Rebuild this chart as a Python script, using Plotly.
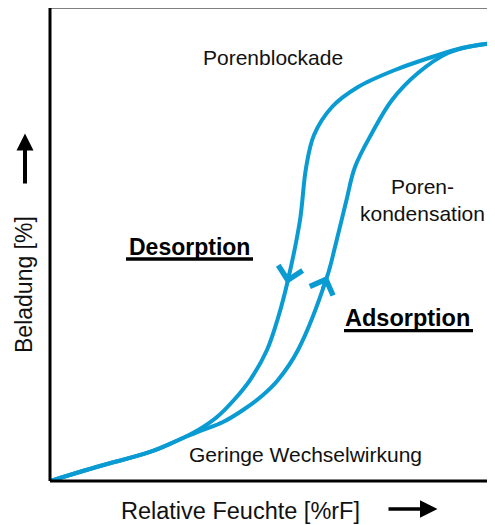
import numpy as np
import plotly.graph_objects as go

# Relative humidity [%rF] and loading [%]
desorption_x = [0.0, 11.26, 22.52, 29.95, 33.78, 37.61, 41.22, 45.05, 48.87, 51.35, 53.60,
                56.31, 57.66, 59.46, 63.51, 69.37, 77.70, 86.04, 92.79, 100.0]
desorption_y = [0.0, 3.16, 6.11, 9.05, 10.95, 13.47, 16.84, 21.26, 27.58, 34.32, 42.32,
                54.95, 65.89, 72.84, 78.74, 82.95, 86.53, 89.26, 91.16, 92.21]
adsorption_x = [0.0, 11.26, 22.52, 29.95, 34.46, 38.96, 43.47, 47.97, 51.35, 55.86, 62.39,
                64.19, 66.67, 68.69, 72.52, 77.03, 82.88, 89.64, 96.40, 100.0]
adsorption_y = [0.0, 3.16, 6.11, 9.05, 10.74, 12.42, 14.95, 18.11, 21.26, 27.58, 42.95,
                49.26, 58.74, 66.11, 73.26, 80.21, 85.89, 90.11, 91.79, 92.21]

# direction arrows on the curves: loading value at the arrow head
desorption_arrow_y = 41.5   # pointing down
adsorption_arrow_y = 43.2   # pointing up

x_title = "Relative Feuchte [%rF]"
y_title = "Beladung [%]"
labels = ["Porenblockade", "Poren-<br>kondensation", "Geringe Wechselwirkung"]
curve_labels = ["Desorption", "Adsorption"]

BLUE = "#0A9BD2"
FONT = "Liberation Sans, Arial, sans-serif"

fig = go.Figure()
for xs, ys, name in [(desorption_x, desorption_y, "Desorption"),
                     (adsorption_x, adsorption_y, "Adsorption")]:
    fig.add_trace(go.Scatter(x=xs, y=ys, mode="lines", name=name,
                             line=dict(color=BLUE, width=4, shape="spline", smoothing=1.0),
                             hoverinfo="skip", showlegend=False))

annotations = []
# curve direction chevrons
for xs, ys, yh, dy in [(desorption_x, desorption_y, desorption_arrow_y, 3.0),
                       (adsorption_x, adsorption_y, adsorption_arrow_y, -3.0)]:
    xh = float(np.interp(yh, ys, xs))
    yt = yh + dy
    xt = float(np.interp(yt, ys, xs))
    annotations.append(dict(x=xh, y=yh, xref="x", yref="y", ax=xt, ay=yt,
                            axref="x", ayref="y", text="", showarrow=True,
                            arrowhead=4, arrowsize=1.6, arrowwidth=3, arrowcolor=BLUE))

txt = dict(family=FONT, size=21, color="#111111")
annotations += [
    dict(x=0.502, y=0.8943, xref="paper", yref="paper", text=labels[0], showarrow=False,
         font=txt, xanchor="center", yanchor="middle"),
    dict(x=0.838, y=0.5941, xref="paper", yref="paper", text=labels[1], showarrow=False,
         font=txt, xanchor="center", yanchor="middle"),
    dict(x=0.5755, y=0.055, xref="paper", yref="paper", text=labels[2], showarrow=False,
         font=txt, xanchor="center", yanchor="middle"),
    dict(x=0.3153, y=0.4947, xref="paper", yref="paper", text="<b>" + curve_labels[0] + "</b>",
         showarrow=False, font=dict(family=FONT, size=23, color="#000000"),
         xanchor="center", yanchor="middle"),
    dict(x=0.806, y=0.3446, xref="paper", yref="paper", text="<b>" + curve_labels[1] + "</b>",
         showarrow=False, font=dict(family=FONT, size=23.5, color="#000000"),
         xanchor="center", yanchor="middle"),
    dict(x=0.428, y=-0.0634, xref="paper", yref="paper", text=x_title, showarrow=False,
         font=dict(family=FONT, size=23.5, color="#111111"), xanchor="center", yanchor="middle"),
    dict(x=-0.0586, y=0.4165, xref="paper", yref="paper", text=y_title, showarrow=False,
         textangle=-90, font=dict(family=FONT, size=23, color="#111111"),
         xanchor="center", yanchor="middle"),
    # axis direction arrows
    dict(x=-0.0563, y=0.7347, xref="paper", yref="paper", text="", showarrow=True,
         ax=0, ay=51.5, arrowhead=2, arrowsize=0.85, arrowwidth=4, arrowcolor="#000000"),
    dict(x=0.8727, y=-0.0592, xref="paper", yref="paper", text="", showarrow=True,
         ax=-50.5, ay=0, arrowhead=2, arrowsize=1.0, arrowwidth=3.5, arrowcolor="#000000"),
]

shapes = [
    dict(type="line", xref="paper", yref="paper", x0=0, x1=0, y0=0, y1=1.005,
         line=dict(color="#000000", width=3)),
    dict(type="line", xref="paper", yref="paper", x0=0, x1=1.01, y0=1.002, y1=1.002,
         line=dict(color="#000000", width=3)),
    dict(type="line", xref="paper", yref="paper", x0=0, x1=1.01, y0=0, y1=0,
         line=dict(color="#000000", width=3)),
    dict(type="line", xref="paper", yref="paper", x0=0.998, x1=0.998, y0=0, y1=1,
         line=dict(color="#D0D0D0", width=1)),
    # underlines of the bold labels
    dict(type="line", xref="paper", yref="paper", x0=0.1712, x1=0.4572, y0=0.4693, y1=0.4693,
         line=dict(color="#000000", width=3.3)),
    dict(type="line", xref="paper", yref="paper", x0=0.6622, x1=0.9527, y0=0.3178, y1=0.3178,
         line=dict(color="#000000", width=3.3)),
]

fig.update_layout(
    width=487, height=517,
    margin=dict(l=42, r=1, t=0, b=44),
    paper_bgcolor="white", plot_bgcolor="white",
    xaxis=dict(range=[0, 100], showgrid=False, zeroline=False, showticklabels=False,
               ticks="", showline=False, fixedrange=True),
    yaxis=dict(range=[0, 99.58], showgrid=False, zeroline=False, showticklabels=False,
               ticks="", showline=False, fixedrange=True),
    annotations=annotations,
    shapes=shapes,
    showlegend=False,
)

fig.write_html("out.html")
